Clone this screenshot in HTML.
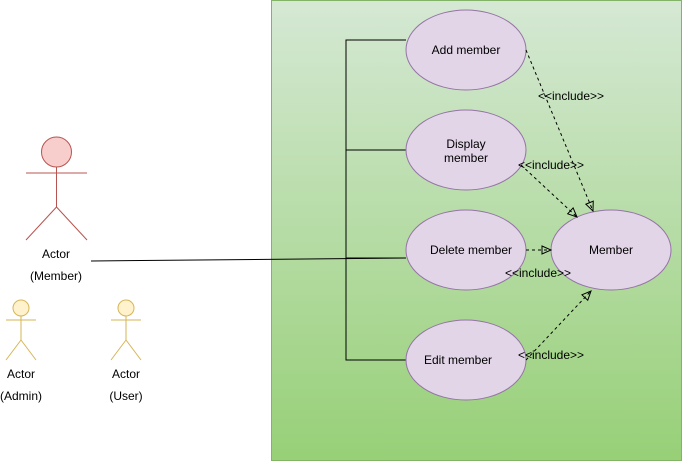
<!DOCTYPE html>
<html><head><meta charset="utf-8"><style>
html,body{margin:0;padding:0;background:#fff;width:682px;height:461px;overflow:hidden}
text{font-family:"Liberation Sans",Arial,sans-serif;font-size:12px;fill:#000}
</style></head><body>
<svg width="682" height="461" viewBox="0 0 682 461" xmlns="http://www.w3.org/2000/svg">
<defs>
<linearGradient id="g" x1="0" y1="0" x2="0" y2="1">
<stop offset="0" stop-color="#d5e8d4"/><stop offset="1" stop-color="#97d077"/>
</linearGradient>
<marker id="a" markerWidth="12" markerHeight="12" refX="10" refY="5" orient="auto" markerUnits="userSpaceOnUse">
<path d="M1,1 L10,5 L1,9 Z" fill="none" stroke="#000" stroke-width="1"/>
</marker>
</defs>
<rect x="271.5" y="0.5" width="410" height="460" fill="url(#g)" stroke="#82b366"/>
<g stroke="#000" fill="none">
<path d="M406,40 H346 V360 H406 M346,150 H406 M346,258 H406"/>
<path d="M91,261 L406,258"/>
</g>
<g fill="#e1d5e7" stroke="#9673a6">
<ellipse cx="466" cy="50" rx="60" ry="40"/>
<ellipse cx="466" cy="150" rx="60" ry="40"/>
<ellipse cx="466" cy="250" rx="60" ry="40"/>
<ellipse cx="466" cy="360" rx="60" ry="40"/>
<ellipse cx="611" cy="250" rx="60" ry="40"/>
</g>
<g stroke="#000" fill="none" stroke-dasharray="3,3" marker-end="url(#a)">
<path d="M526,50 L593,211"/>
<path d="M521,165 L577,217"/>
<path d="M526,250 L551,250"/>
<path d="M526,360 L591,291"/>
</g>
<g text-anchor="middle">
<text x="466" y="54">Add member</text>
<text x="466" y="148">Display</text>
<text x="466" y="162">member</text>
<text x="471" y="254">Delete member</text>
<text x="458" y="364">Edit member</text>
<text x="611" y="254">Member</text>
<text x="571" y="100">&lt;&lt;include&gt;&gt;</text>
<text x="551" y="169">&lt;&lt;include&gt;&gt;</text>
<text x="538" y="277">&lt;&lt;include&gt;&gt;</text>
<text x="551" y="359">&lt;&lt;include&gt;&gt;</text>
</g>
<g fill="#f8cecc" stroke="#b85450">
<circle cx="56.5" cy="152" r="15"/>
<path d="M56.5,167 V207 L26,240 M56.5,207 L87,240 M26,173 H87" fill="none"/>
</g>
<g fill="#fff2cc" stroke="#d6b656">
<circle cx="21" cy="308" r="8"/>
<path d="M21,316 V340 L6,360 M21,340 L36,360 M6,320 H36" fill="none"/>
<circle cx="126" cy="308" r="8"/>
<path d="M126,316 V340 L111,360 M126,340 L141,360 M111,320 H141" fill="none"/>
</g>
<g text-anchor="middle">
<text x="56" y="258">Actor</text>
<text x="56" y="280">(Member)</text>
<text x="21" y="378">Actor</text>
<text x="21" y="400">(Admin)</text>
<text x="126" y="378">Actor</text>
<text x="126" y="400">(User)</text>
</g>
</svg>
</body></html>
